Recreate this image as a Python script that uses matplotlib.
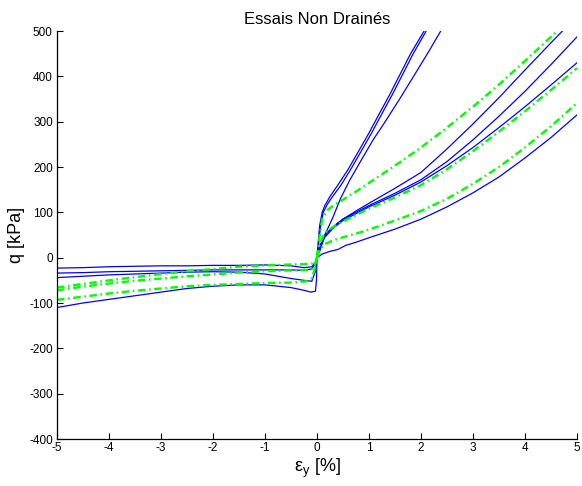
import matplotlib
matplotlib.use("Agg")
import matplotlib.pyplot as plt

plt.rcParams['font.family'] = ['Liberation Sans', 'DejaVu Sans']

# ---- Measured curves (blue), compression side ----
comp_a_x = [0, 0.02, 0.05, 0.1, 0.15, 0.25, 0.4, 0.6, 0.8, 1.0, 1.2, 1.4, 1.6, 1.8, 2.06]
comp_a_y = [0, 30, 70, 100, 115, 135, 160, 195, 235, 275, 318, 360, 405, 450, 500]

comp_b_x = [0, 0.03, 0.07, 0.12, 0.2, 0.3, 0.45, 0.65, 0.85, 1.05, 1.25, 1.45, 1.65, 1.85, 2.1]
comp_b_y = [0, 30, 70, 100, 118, 135, 158, 195, 235, 275, 318, 360, 405, 450, 500]

comp_c_x = [0, 0.06, 0.15, 0.31, 0.45, 0.63, 0.85, 1.08, 1.3, 1.6, 1.9, 2.15, 2.38]
comp_c_y = [0, 17, 50, 90, 130, 171, 215, 260, 298, 352, 408, 455, 500]

comp_d_x = [0, 0.05, 0.15, 0.31, 0.5, 0.75, 1.0, 1.5, 2.0, 2.5, 3.0, 3.5, 4.0, 4.5, 4.72]
comp_d_y = [0, 25, 50, 68, 85, 103, 120, 153, 188, 240, 295, 353, 414, 474, 500]

fan_x = [0, 0.05, 0.15, 0.31, 0.5, 0.75, 1.0, 1.5, 2.0, 2.5, 3.0, 3.5, 4.0, 4.5, 5.0]
comp_e_y = [0, 22, 48, 68, 85, 100, 115, 142, 172, 212, 260, 312, 367, 426, 487]
comp_f_y = [0, 20, 45, 65, 82, 97, 112, 138, 167, 203, 243, 287, 333, 381, 430]

comp_g_x = [0, 0.1, 0.25, 0.4, 0.55, 0.75, 1.0, 1.5, 2.0, 2.5, 3.0, 3.5, 4.0, 4.5, 5.0]
comp_g_y = [0, 8, 14, 18, 27, 34, 44, 63, 85, 112, 143, 178, 220, 265, 315]

# ---- Measured curves (blue), extension side ----
ext_x = [-5, -4.5, -4, -3.5, -3, -2.5, -2, -1.5, -1, -0.5, -0.25, -0.1, -0.03, 0]
ext_a_y = [-23, -22, -20, -19, -18, -18, -17, -17, -16, -18, -22, -20, -10, 0]
ext_b_y = [-34, -33, -31, -30, -29, -28, -27, -27, -27, -27, -28, -25, -12, 0]
ext_c_y = [-44, -41, -38, -36, -34, -32, -31, -32, -36, -46, -50, -52, -30, 0]

ext_d_x = [-5, -4.5, -4, -3.5, -3, -2.5, -2, -1.5, -1, -0.5, -0.25, -0.12, -0.03, -0.01, 0]
ext_d_y = [-110, -100, -92, -84, -76, -68, -63, -60, -60, -66, -72, -76, -74, -50, 0]

# ---- Simulated curves (green dash-dot) ----
sim_c1_x = [0, 0.04, 0.1, 0.2, 0.35, 0.5, 0.75, 1.0, 1.5, 2.0, 2.5, 3.0, 3.5, 4.0, 4.62]
sim_c1_y = [0, 40, 85, 105, 118, 128, 146, 165, 203, 243, 287, 333, 382, 434, 500]

sim_c2_y = [0, 30, 55, 68, 80, 94, 108, 133, 160, 195, 235, 278, 323, 370, 418]
sim_c3_y = [0, 15, 30, 38, 45, 53, 62, 82, 103, 130, 163, 200, 243, 290, 341]

sim_e_x = [-5, -4.5, -4, -3.5, -3, -2.5, -2, -1.5, -1, -0.5, -0.2, -0.1, -0.03, 0]
sim_e1_y = [-66, -58, -50, -43, -36, -30, -25, -20, -17, -15, -14, -13, -8, 0]
sim_e2_y = [-72, -64, -57, -51, -46, -41, -37, -33, -30, -28, -27, -25, -12, 0]
sim_e3_y = [-93, -86, -79, -73, -68, -63, -60, -58, -56, -55, -52, -45, -20, 0]

x_ticks = [-5, -4, -3, -2, -1, 0, 1, 2, 3, 4, 5]
y_ticks = [-400, -300, -200, -100, 0, 100, 200, 300, 400, 500]

fig = plt.figure(figsize=(5.82, 4.86), dpi=100)
ax = fig.add_axes([57 / 582, 1 - 439 / 486, 520 / 582, 408 / 486])

blue = (0, 0, 1)
green = (0, 1, 0)
blue_kw = dict(color=blue, lw=0.9)
green_kw = dict(color=green, lw=1.7, linestyle=(0, (3.2, 1.5, 0.7, 1.5)))

measured = [
    (comp_a_x, comp_a_y), (comp_b_x, comp_b_y), (comp_c_x, comp_c_y),
    (comp_d_x, comp_d_y), (fan_x, comp_e_y), (fan_x, comp_f_y),
    (comp_g_x, comp_g_y),
    (ext_x, ext_a_y), (ext_x, ext_b_y), (ext_x, ext_c_y), (ext_d_x, ext_d_y),
]
for xs, ys in measured:
    ax.plot(xs, ys, **blue_kw)

simulated = [
    (sim_c1_x, sim_c1_y), (fan_x, sim_c2_y), (fan_x, sim_c3_y),
    (sim_e_x, sim_e1_y), (sim_e_x, sim_e2_y), (sim_e_x, sim_e3_y),
]
for xs, ys in simulated:
    ax.plot(xs, ys, **green_kw)

ax.set_xlim(-5, 5)
ax.set_ylim(-400, 500)
ax.set_xticks(x_ticks)
ax.set_yticks(y_ticks)
ax.set_xticklabels([str(v) for v in x_ticks])
ax.set_yticklabels([str(v) for v in y_ticks])
ax.tick_params(direction='in', length=4, width=0.8, labelsize=8.5, pad=3)
ax.tick_params(axis='x', pad=2)
for side in ('top', 'right'):
    ax.spines[side].set_visible(False)
for side in ('left', 'bottom'):
    ax.spines[side].set_linewidth(0.9)

ax.set_xlabel(r'$\mathregular{\varepsilon_y}$ [%]', fontsize=13, labelpad=2)
ax.set_ylabel('q [kPa]', fontsize=13, labelpad=3)
ax.set_title('Essais Non Drainés', fontsize=12, pad=5)

fig.savefig('out.png', dpi=100)
